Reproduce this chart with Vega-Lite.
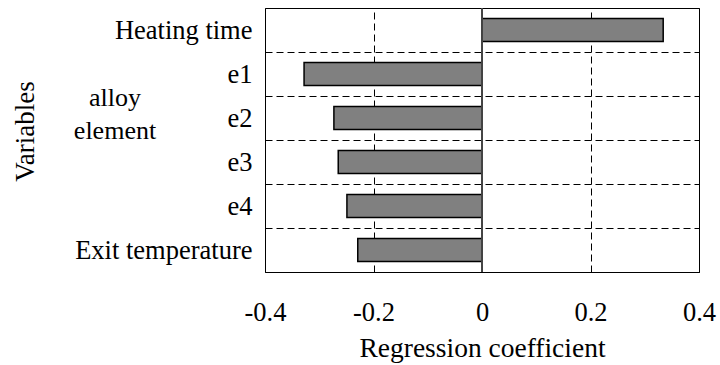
{
  "$schema": "https://vega.github.io/schema/vega-lite/v6.json",
  "width": 434,
  "height": 264,
  "autosize": "none",
  "padding": {"left": 265, "top": 8, "right": 21, "bottom": 93},
  "background": "white",
  "config": {
    "font": "Liberation Serif",
    "view": {"stroke": "black", "strokeWidth": 1}
  },
  "data": {
    "values": [
      {"variable": "Heating time", "coef": 0.334},
      {"variable": "e1", "coef": -0.328},
      {"variable": "e2", "coef": -0.273},
      {"variable": "e3", "coef": -0.265},
      {"variable": "e4", "coef": -0.249},
      {"variable": "Exit temperature", "coef": -0.229}
    ]
  },
  "layer": [
    {
      "mark": {"type": "bar", "fill": "#808080", "stroke": "black", "strokeWidth": 1.5, "height": {"band": 0.52}},
      "encoding": {
        "x": {
          "field": "coef",
          "type": "quantitative",
          "scale": {"domain": [-0.4, 0.4], "nice": false, "zero": false},
          "axis": {
            "values": [-0.4, -0.2, 0, 0.2, 0.4],
            "labelExpr": "datum.value == 0 ? '0' : (datum.value < 0 ? '-' : '') + format(abs(datum.value), '.1f')",
            "title": "Regression coefficient",
            "grid": true,
            "gridDash": [7, 4],
            "gridColor": "black",
            "gridOpacity": 1,
            "ticks": false,
            "domain": false,
            "labelFlush": false,
            "labelFontSize": 26.5,
            "labelColor": "black",
            "labelBaseline": "alphabetic",
            "labelPadding": 48,
            "titleFontSize": 27.5,
            "titleFontWeight": "normal",
            "titleColor": "black",
            "titleBaseline": "alphabetic",
            "titleY": 84
          }
        },
        "y": {
          "field": "variable",
          "type": "nominal",
          "sort": ["Heating time", "e1", "e2", "e3", "e4", "Exit temperature"],
          "scale": {"paddingInner": 0, "paddingOuter": 0},
          "axis": {
            "title": "Variables",
            "ticks": false,
            "domain": false,
            "tickBand": "extent",
            "grid": true,
            "gridDash": [7, 4],
            "gridColor": "black",
            "gridOpacity": 1,
            "labelFontSize": 26.5,
            "labelColor": "black",
            "labelPadding": 13,
            "titleFontSize": 27,
            "titleFontWeight": "normal",
            "titleColor": "black",
            "titleBaseline": "alphabetic",
            "titleX": -232,
            "titleY": 123
          }
        }
      }
    },
    {
      "mark": {"type": "rule", "color": "#444444", "strokeWidth": 1},
      "encoding": {"x": {"datum": 0}}
    },
    {
      "data": {"values": [{"note": "alloy\nelement", "variable": "e2"}]},
      "mark": {"type": "text", "lineBreak": "\n", "fontSize": 26, "lineHeight": 33, "dx": -150, "dy": 10, "align": "center", "baseline": "alphabetic", "color": "black"},
      "encoding": {
        "x": {"datum": -0.4},
        "y": {"field": "variable", "type": "nominal", "bandPosition": 0, "sort": ["Heating time", "e1", "e2", "e3", "e4", "Exit temperature"]},
        "text": {"field": "note"}
      }
    }
  ]
}
